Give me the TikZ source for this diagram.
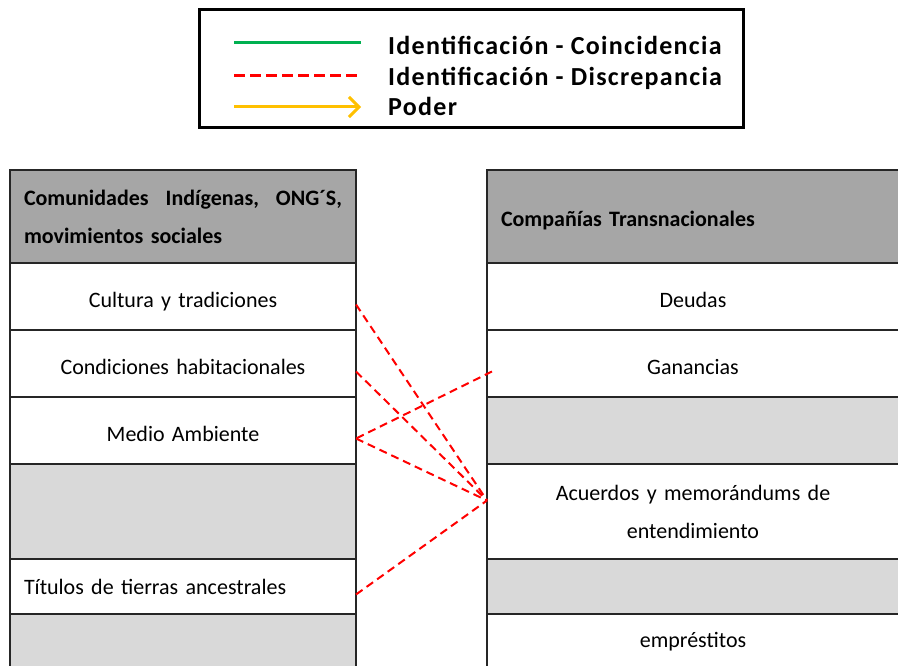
\documentclass[tikz,border=0pt]{standalone}
\usepackage{fontspec}
\setmainfont{Carlito}
\newfontfamily\legendfont[LetterSpace=5]{Carlito}
\usetikzlibrary{arrows.meta}
\usetikzlibrary{positioning}
\definecolor{headgray}{HTML}{A6A6A6}
\definecolor{emptygray}{HTML}{D9D9D9}
\definecolor{coincgreen}{HTML}{00B050}
\definecolor{discred}{HTML}{FF0000}
\definecolor{podyellow}{HTML}{FFC000}
\newcommand*{\bodyfont}{\fontsize{22}{38}\selectfont}
\tikzset{
    cell/.style = {draw=black!85,line width=1.5pt,outer sep=0pt,inner xsep=14pt,inner ysep=0pt,
        anchor=north,align=center,font=\bodyfont},
    low/.style = {text height=21pt,text depth=0pt},
    lcol/.style = {minimum width=346pt,text width=318pt},
    rcol/.style = {minimum width=412pt,text width=384pt},
    head/.style = {cell,fill=headgray,align=left,font=\bodyfont\bfseries},
    blank/.style = {cell,fill=emptygray},
    legendbox/.style = {draw=black,line width=3pt,minimum width=544pt,minimum height=118pt,
        inner sep=0pt,outer sep=0pt,anchor=north west},
    legtext/.style = {anchor=base west,inner sep=0pt,font=\fontsize{26}{30}\selectfont\legendfont\bfseries}
}
\tikzset{
    coinc/.style = {coincgreen,line width=3pt},
    discr/.style = {discred,line width=2pt,dash pattern=on 8pt off 5pt},
    discrleg/.style = {discred,line width=3pt,dash pattern=on 11pt off 5pt},
    poder/.style = {podyellow,line width=3pt,-{Straight Barb[length=10pt,width=20pt,line width=3pt]}}
}
\begin{document}
\begin{tikzpicture}[x=1pt,y=-1pt]
        \useasboundingbox (0,0) rectangle (898,666);
        \clip (0,0) rectangle (898,666);
        % Legend
        \node[legendbox] (legend) at (199,10) {};
        \path (234,43) coordinate (g1) (361,43) coordinate (g2)
              (234,76) coordinate (r1) (361,76) coordinate (r2)
              (234,107) coordinate (y1) (361,107) coordinate (y2);
        \node[legtext] (lcoinc) at (388,55) {Identificación - Coincidencia};
        \node[legtext] (ldisc) at (388,86) {Identificación - Discrepancia};
        \node[legtext] (lpoder) at (388,116) {Poder};
        \draw[coinc] (g1) -- (g2);
        \draw[discrleg] (r1) -- (r2);
        \draw[poder] (y1) -- (y2);
        % Left column
        \node[head,lcol,anchor=north west,minimum height=93pt] (lhead) at (10,170)
            {Comunidades\hfill Indígenas,\hfill ONG´S,\\movimientos sociales};
        \node[cell,lcol,low,minimum height=67pt,below=0pt of lhead] (cult) {Cultura y tradiciones};
        \node[cell,lcol,low,minimum height=67pt,below=0pt of cult] (cond) {Condiciones habitacionales};
        \node[cell,lcol,low,minimum height=67pt,below=0pt of cond] (medio) {Medio Ambiente};
        \node[blank,lcol,minimum height=95pt,below=0pt of medio] (lgap1) {};
        \node[cell,lcol,align=left,minimum height=55pt,below=0pt of lgap1] (tit) {Títulos de tierras ancestrales};
        \node[blank,lcol,minimum height=70pt,below=0pt of tit] (lgap2) {};
        % Right column
        \node[head,rcol,low,anchor=north west,minimum height=93pt] (rhead) at (487,170)
            {Compañías Transnacionales};
        \node[cell,rcol,low,minimum height=67pt,below=0pt of rhead] (deud) {Deudas};
        \node[cell,rcol,low,minimum height=67pt,below=0pt of deud] (gan) {Ganancias};
        \node[blank,rcol,minimum height=67pt,below=0pt of gan] (rgap1) {};
        \node[cell,rcol,minimum height=95pt,below=0pt of rgap1] (acue)
            {Acuerdos y memorándums de\\entendimiento};
        \node[blank,rcol,minimum height=55pt,below=0pt of acue] (rgap2) {};
        \node[cell,rcol,minimum height=56pt,below=0pt of rgap2] (empr) {empréstitos};
        % Discrepancies
        \foreach \src in {cult,cond,medio,tit}
            \draw[discr] ([yshift=-8pt]\src.east) -- ([yshift=11pt]acue.west);
        \draw[discr] ([shift={(5pt,-8pt)}]gan.west) -- ([yshift=-8pt]medio.east);
    \end{tikzpicture}
\end{document}
